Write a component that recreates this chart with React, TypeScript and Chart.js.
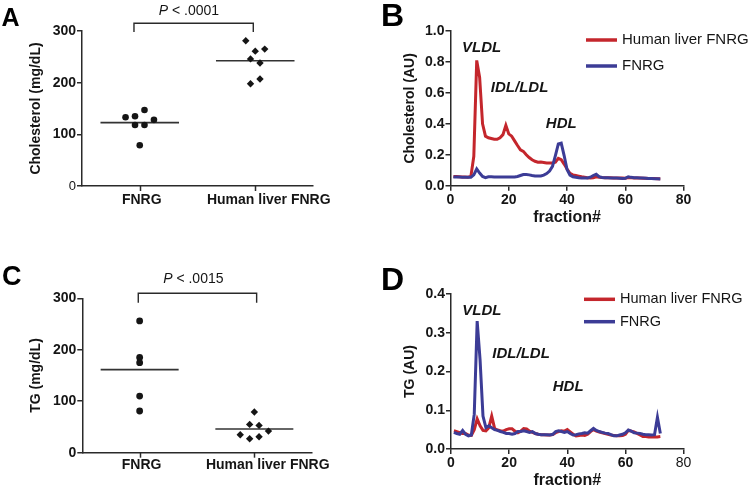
import React, { useEffect, useRef } from 'react';
import { Chart, registerables } from 'chart.js';

Chart.register(...registerables);

const FONT = "'Liberation Sans', Arial, Helvetica, sans-serif";
const INK = '#151515';
const AXIS = '#2a2a2a';
const RED = '#c4262c';
const BLUE = '#3c3c96';

// ---- Panels A and C: individual animals ----
const groups = ['FNRG', 'Human liver FNRG'];
const cholFNRG = [133, 135, 147, 128, 118, 118, 79];
const cholHuman = [281, 261, 265, 246, 238, 198, 207];
const tgFNRG = [256, 185, 175, 110, 81];
const tgHuman = [79, 55, 53, 35, 27, 31, 42];
const pChol = '< .0001';
const pTg = '< .0015';

// ---- Panels B and D: FPLC fractions 1..72 ----
const seriesNames = ['Human liver FNRG', 'FNRG'];
const cholHumanFr = [
  0.06, 0.059, 0.058, 0.057, 0.056, 0.055, 0.06, 0.19, 0.81, 0.7,
  0.4, 0.32, 0.31, 0.305, 0.3, 0.3, 0.31, 0.33, 0.39, 0.335,
  0.32, 0.29, 0.26, 0.232, 0.222, 0.2, 0.182, 0.168, 0.158, 0.152,
  0.153, 0.15, 0.147, 0.146, 0.146, 0.152, 0.177, 0.168, 0.14, 0.108,
  0.08, 0.07, 0.066, 0.062, 0.058, 0.055, 0.052, 0.05, 0.052, 0.058,
  0.055, 0.053, 0.052, 0.052, 0.051, 0.05, 0.05, 0.049, 0.049, 0.048,
  0.052, 0.051, 0.05, 0.05, 0.049, 0.048, 0.048, 0.047, 0.047, 0.046,
  0.045, 0.045,
];
const cholFNRGFr = [
  0.057, 0.056, 0.056, 0.055, 0.055, 0.054, 0.054, 0.07, 0.108, 0.082,
  0.06, 0.052, 0.058, 0.058, 0.057, 0.057, 0.056, 0.056, 0.056, 0.056,
  0.056, 0.057, 0.06, 0.066, 0.072, 0.073, 0.07, 0.066, 0.063, 0.062,
  0.063, 0.068, 0.078, 0.095, 0.125, 0.195, 0.27, 0.275, 0.195, 0.105,
  0.068, 0.058, 0.055, 0.052, 0.05, 0.049, 0.05, 0.055, 0.066, 0.074,
  0.058, 0.053, 0.052, 0.051, 0.05, 0.05, 0.049, 0.048, 0.047, 0.048,
  0.058, 0.054, 0.052, 0.051, 0.05, 0.049, 0.048, 0.047, 0.046, 0.045,
  0.045, 0.044,
];
const tgHumanFr = [
  0.047, 0.045, 0.042, 0.04, 0.04, 0.036, 0.035, 0.05, 0.078, 0.06,
  0.048, 0.047, 0.055, 0.085, 0.053, 0.049, 0.047, 0.046, 0.05, 0.052,
  0.052, 0.046, 0.042, 0.046, 0.053, 0.052, 0.046, 0.043, 0.04, 0.038,
  0.037, 0.037, 0.036, 0.036, 0.037, 0.042, 0.045, 0.047, 0.046, 0.05,
  0.044, 0.038, 0.034, 0.035, 0.036, 0.035, 0.038, 0.045, 0.05, 0.046,
  0.044, 0.042, 0.04, 0.038, 0.036, 0.035, 0.034, 0.034, 0.035, 0.038,
  0.048, 0.046, 0.044, 0.04, 0.036, 0.032, 0.032, 0.031, 0.031, 0.031,
  0.031, 0.032,
];
const tgFNRGFr = [
  0.043, 0.04, 0.038, 0.048, 0.038, 0.034, 0.036, 0.09, 0.33, 0.23,
  0.085, 0.055, 0.06, 0.055, 0.05, 0.048, 0.045, 0.043, 0.04, 0.04,
  0.038, 0.04, 0.045, 0.045, 0.047, 0.045, 0.043, 0.045, 0.04, 0.038,
  0.037, 0.037, 0.037, 0.036, 0.038, 0.045, 0.047, 0.045, 0.043, 0.045,
  0.04, 0.036, 0.037, 0.039, 0.04, 0.042, 0.041, 0.047, 0.053, 0.048,
  0.045, 0.043, 0.041, 0.04, 0.037, 0.034, 0.034, 0.036, 0.038, 0.042,
  0.049, 0.046, 0.042, 0.041, 0.04, 0.038, 0.037, 0.037, 0.036, 0.037,
  0.082, 0.04,
];
const xTicksFr = [0, 20, 40, 60, 80];
const lipoLabels = ['VLDL', 'IDL/LDL', 'HDL'];

// ---- helpers ----
function mean(a: number[]) {
  return a.reduce((s, v) => s + v, 0) / a.length;
}

// GraphPad-like column scatter: consecutive close values share a row, rows are centred.
function swarm(values: number[], center: number, step: number, threshold: number) {
  const rows: number[][] = [];
  let cur: number[] = [];
  values.forEach((v, i) => {
    const vals = cur.map((j) => values[j]).concat(v);
    if (cur.length && Math.max(...vals) - Math.min(...vals) > threshold) {
      rows.push(cur);
      cur = [];
    }
    cur.push(i);
  });
  if (cur.length) rows.push(cur);
  const pts: { x: number; y: number }[] = [];
  rows.forEach((r) =>
    r.forEach((idx, k) => pts.push({ x: center + (k - (r.length - 1) / 2) * step, y: values[idx] }))
  );
  return pts;
}

type Area = { left: number; right: number; top: number; bottom: number; w: number; h: number };

function tickFont(size: number, weight: string) {
  return { family: FONT, size, weight } as any;
}

const CENTERS = [0.5, 1.5];
// GraphPad draws the column titles a little to the right of the column centre
const LABEL_SHIFT = [0.017, 0.117];

function scatterConfig(s: {
  a: number[];
  b: number[];
  yTitle: string;
  pLabel: string;
  thrA: number;
  thrB: number;
  zeroLight: boolean;
  area: Area;
  bracket: { x1: number; x2: number; textX: number; dyTop: number; dyEnd: number; dyText: number };
  xLabelPad: number;
  circleR: number;
}) {
  const step = 0.082;
  const half = 0.34;
  const mA = mean(s.a);
  const mB = mean(s.b);
  const bracketPlugin = {
    id: 'bracket',
    afterDraw(chart: any) {
      const { ctx, chartArea } = chart;
      const x = chart.scales.x;
      ctx.save();
      // column tick marks
      ctx.strokeStyle = AXIS;
      ctx.lineWidth = 1.5;
      CENTERS.forEach((c) => {
        const px = Math.round(x.getPixelForValue(c)) + 0.5;
        ctx.beginPath();
        ctx.moveTo(px, chartArea.bottom);
        ctx.lineTo(px, chartArea.bottom + 5);
        ctx.stroke();
      });
      const xa = x.getPixelForValue(s.bracket.x1);
      const xb = x.getPixelForValue(s.bracket.x2);
      const yTop = chartArea.top + s.bracket.dyTop;
      const yEnd = chartArea.top + s.bracket.dyEnd;
      ctx.lineWidth = 1.4;
      ctx.beginPath();
      ctx.moveTo(xa, yEnd);
      ctx.lineTo(xa, yTop);
      ctx.lineTo(xb, yTop);
      ctx.lineTo(xb, yEnd);
      ctx.stroke();
      ctx.fillStyle = INK;
      ctx.textBaseline = 'middle';
      ctx.textAlign = 'left';
      ctx.font = `italic 14px ${FONT}`;
      const w1 = ctx.measureText('P').width;
      ctx.font = `14px ${FONT}`;
      const rest = ' ' + s.pLabel;
      const w2 = ctx.measureText(rest).width;
      const tx = x.getPixelForValue(s.bracket.textX) - (w1 + w2) / 2;
      const ty = chartArea.top + s.bracket.dyText;
      ctx.font = `italic 14px ${FONT}`;
      ctx.fillText('P', tx, ty);
      ctx.font = `14px ${FONT}`;
      ctx.fillText(rest, tx + w1, ty);
      ctx.restore();
    },
  };
  return {
    type: 'scatter',
    data: {
      datasets: [
        { data: swarm(s.a, CENTERS[0], step, s.thrA), pointStyle: 'circle', pointRadius: s.circleR, backgroundColor: INK, borderWidth: 0 },
        { data: swarm(s.b, CENTERS[1], step, s.thrB), pointStyle: 'rectRot', pointRadius: 3.7, backgroundColor: INK, borderWidth: 0 },
        { type: 'line', data: [{ x: CENTERS[0] - half, y: mA }, { x: CENTERS[0] + half, y: mA }], borderColor: '#333', borderWidth: 1.6, pointRadius: 0, showLine: true },
        { type: 'line', data: [{ x: CENTERS[1] - half, y: mB }, { x: CENTERS[1] + half, y: mB }], borderColor: '#333', borderWidth: 1.6, pointRadius: 0, showLine: true },
      ],
    },
    options: {
      responsive: false,
      animation: false,
      devicePixelRatio: 1,
      layout: { padding: { left: 0, top: s.area.top, right: s.area.w - s.area.right, bottom: 0 } },
      plugins: { legend: { display: false }, tooltip: { enabled: false } },
      scales: {
        x: {
          type: 'linear',
          min: 0,
          max: 2,
          afterBuildTicks: (sc: any) => {
            sc.ticks = CENTERS.map((c, i) => ({ value: c + LABEL_SHIFT[i] }));
          },
          afterFit: (sc: any) => {
            sc.height = s.area.h - s.area.bottom;
          },
          grid: { display: true, drawOnChartArea: false, drawTicks: true, tickLength: 5, color: AXIS, tickColor: 'rgba(0,0,0,0)', lineWidth: 1.5 },
          border: { display: true, color: AXIS, width: 1.5 },
          ticks: {
            padding: s.xLabelPad,
            color: INK,
            autoSkip: false,
            maxRotation: 0,
            font: tickFont(14, 'bold'),
            callback: (_v: any, i: number) => groups[i],
          },
        },
        y: {
          min: 0,
          max: 300,
          afterFit: (sc: any) => {
            sc.width = s.area.left;
          },
          grid: { display: true, drawOnChartArea: false, drawTicks: true, tickLength: 5, color: AXIS, lineWidth: 1.5 },
          border: { display: true, color: AXIS, width: 1.5 },
          ticks: {
            stepSize: 100,
            padding: 1,
            color: INK,
            font: (c: any) =>
              s.zeroLight && c.tick && c.tick.value === 0 ? tickFont(13, 'normal') : tickFont(14, 'bold'),
          },
          title: {
            display: true,
            text: s.yTitle,
            color: INK,
            font: { family: FONT, size: 14, weight: 'bold' },
            padding: { top: 27.6, bottom: 0 },
          },
        },
      },
    },
    plugins: [bracketPlugin],
  };
}

function lineConfig(s: {
  red: number[];
  blue: number[];
  yMax: number;
  yStep: number;
  yTitle: string;
  area: Area;
  xTitlePad: number;
  xLabelPad: number;
  labelPos: { x: number; y: number }[];
  legend: { x: number; y: number; gap: number; len: number; textGap: number; size: number };
  light80: boolean;
}) {
  const toPts = (arr: number[]) => arr.map((v, i) => ({ x: i + 1, y: v }));
  const decor = {
    id: 'decor',
    afterDraw(chart: any) {
      const { ctx } = chart;
      const x = chart.scales.x;
      const y = chart.scales.y;
      ctx.save();
      ctx.fillStyle = INK;
      ctx.textBaseline = 'middle';
      ctx.textAlign = 'center';
      ctx.font = `italic bold 15px ${FONT}`;
      lipoLabels.forEach((t, i) => {
        ctx.fillText(t, x.getPixelForValue(s.labelPos[i].x), y.getPixelForValue(s.labelPos[i].y));
      });
      const L = s.legend;
      ctx.textAlign = 'left';
      ctx.font = `${L.size}px ${FONT}`;
      chart.data.datasets.forEach((ds: any, i: number) => {
        const yy = L.y + i * L.gap;
        ctx.strokeStyle = ds.borderColor;
        ctx.lineWidth = 3.5;
        ctx.beginPath();
        ctx.moveTo(L.x, yy);
        ctx.lineTo(L.x + L.len, yy);
        ctx.stroke();
        ctx.fillStyle = INK;
        ctx.fillText(ds.label, L.x + L.len + L.textGap, yy);
      });
      ctx.restore();
    },
  };
  return {
    type: 'scatter',
    data: {
      datasets: [
        { label: seriesNames[0], data: toPts(s.red), borderColor: RED, backgroundColor: RED, borderWidth: 3, showLine: true, pointRadius: 0, tension: 0, order: 2 },
        { label: seriesNames[1], data: toPts(s.blue), borderColor: BLUE, backgroundColor: BLUE, borderWidth: 3, showLine: true, pointRadius: 0, tension: 0, order: 1 },
      ],
    },
    options: {
      responsive: false,
      animation: false,
      devicePixelRatio: 1,
      layout: { padding: { left: 0, top: s.area.top, right: s.area.w - s.area.right, bottom: 0 } },
      plugins: { legend: { display: false }, tooltip: { enabled: false } },
      scales: {
        x: {
          type: 'linear',
          min: xTicksFr[0],
          max: xTicksFr[xTicksFr.length - 1],
          afterBuildTicks: (sc: any) => {
            sc.ticks = xTicksFr.map((v) => ({ value: v }));
          },
          afterFit: (sc: any) => {
            sc.height = s.area.h - s.area.bottom;
          },
          grid: { display: true, drawOnChartArea: false, drawTicks: true, tickLength: 5, color: AXIS, lineWidth: 1.5 },
          border: { display: true, color: AXIS, width: 1.5 },
          ticks: {
            padding: s.xLabelPad,
            color: INK,
            autoSkip: false,
            maxRotation: 0,
            font: (c: any) =>
              s.light80 && c.tick && c.tick.value === 80 ? tickFont(14, 'normal') : tickFont(14, 'bold'),
          },
          title: {
            display: true,
            text: 'fraction#',
            color: INK,
            font: { family: FONT, size: 16, weight: 'bold' },
            padding: { top: 0, bottom: s.xTitlePad },
          },
        },
        y: {
          min: 0,
          max: s.yMax,
          afterFit: (sc: any) => {
            sc.width = s.area.left;
          },
          grid: { display: true, drawOnChartArea: false, drawTicks: true, tickLength: 5, color: AXIS, lineWidth: 1.5 },
          border: { display: true, color: AXIS, width: 1.5 },
          ticks: {
            stepSize: s.yStep,
            padding: 1,
            color: INK,
            font: tickFont(14, 'bold'),
            callback: (v: any) => Number(v).toFixed(1),
          },
          title: {
            display: true,
            text: s.yTitle,
            color: INK,
            font: { family: FONT, size: 14, weight: 'bold' },
            padding: { top: 27.3, bottom: 0 },
          },
        },
      },
    },
    plugins: [decor],
  };
}

function ChartBox({ left, top, w, h, make }: { left: number; top: number; w: number; h: number; make: () => any }) {
  const ref = useRef<HTMLCanvasElement>(null);
  useEffect(() => {
    const chart = new Chart(ref.current as HTMLCanvasElement, make());
    return () => chart.destroy();
  }, []);
  return (
    <div style={{ position: 'absolute', left, top, width: w, height: h }}>
      <canvas ref={ref} width={w} height={h} style={{ display: 'block', width: w, height: h }} />
    </div>
  );
}

function Letter({ t, left, top, size }: { t: string; left: number; top: number; size: number }) {
  return (
    <div
      style={{
        position: 'absolute',
        left,
        top,
        fontFamily: FONT,
        fontWeight: 'bold',
        fontSize: size,
        lineHeight: 1,
        color: '#000',
      }}
    >
      {t}
    </div>
  );
}

export default function App() {
  const W = 374;
  const H = 245;
  return (
    <div style={{ position: 'absolute', left: 0, top: 0, width: 748, height: 490, background: '#fff', overflow: 'hidden' }}>
      <ChartBox
        left={0}
        top={0}
        w={W}
        h={H}
        make={() =>
          scatterConfig({
            a: cholFNRG,
            b: cholHuman,
            yTitle: 'Cholesterol (mg/dL)',
            pLabel: pChol,
            thrA: 20,
            thrB: 20,
            zeroLight: true,
            area: { left: 82, right: 313, top: 31, bottom: 186, w: W, h: H },
            bracket: { x1: 0.45, x2: 1.483, textX: 0.926, dyTop: -7.7, dyEnd: 1, dyText: -19.5 },
            xLabelPad: 1,
            circleR: 3.3,
          })
        }
      />
      <ChartBox
        left={W}
        top={0}
        w={W}
        h={H}
        make={() =>
          lineConfig({
            red: cholHumanFr,
            blue: cholFNRGFr,
            yMax: 1,
            yStep: 0.2,
            yTitle: 'Cholesterol (AU)',
            area: { left: 76.5, right: 309.6, top: 31, bottom: 185.7, w: W, h: H },
            xTitlePad: 18,
            xLabelPad: 1,
            labelPos: [
              { x: 10.7, y: 0.893 },
              { x: 23.7, y: 0.635 },
              { x: 38.0, y: 0.399 },
            ],
            legend: { x: 212, y: 40, gap: 26, len: 31, textGap: 5, size: 15 },
            light80: false,
          })
        }
      />
      <ChartBox
        left={0}
        top={H}
        w={W}
        h={H}
        make={() =>
          scatterConfig({
            a: tgFNRG,
            b: tgHuman,
            yTitle: 'TG (mg/dL)',
            pLabel: pTg,
            thrA: 5,
            thrB: 16,
            zeroLight: false,
            area: { left: 82.3, right: 311.7, top: 53.3, bottom: 207.7, w: W, h: H },
            bracket: { x1: 0.488, x2: 1.52, textX: 0.968, dyTop: -5, dyEnd: 4.4, dyText: -19.3 },
            xLabelPad: -1,
            circleR: 3.4,
          })
        }
      />
      <ChartBox
        left={W}
        top={H}
        w={W}
        h={H}
        make={() =>
          lineConfig({
            red: tgHumanFr,
            blue: tgFNRGFr,
            yMax: 0.4,
            yStep: 0.1,
            yTitle: 'TG (AU)',
            area: { left: 77, right: 309.6, top: 49, bottom: 204, w: W, h: H },
            xTitlePad: 0,
            xLabelPad: 0.5,
            labelPos: [
              { x: 10.6, y: 0.357 },
              { x: 24.1, y: 0.245 },
              { x: 40.3, y: 0.16 },
            ],
            legend: { x: 210, y: 54.3, gap: 22.4, len: 31, textGap: 5, size: 14.5 },
            light80: true,
          })
        }
      />
      <Letter t="A" left={1.5} top={4.7} size={25} />
      <Letter t="B" left={381} top={-0.9} size={32} />
      <Letter t="C" left={2} top={263.2} size={27} />
      <Letter t="D" left={381} top={262.5} size={32} />
    </div>
  );
}
